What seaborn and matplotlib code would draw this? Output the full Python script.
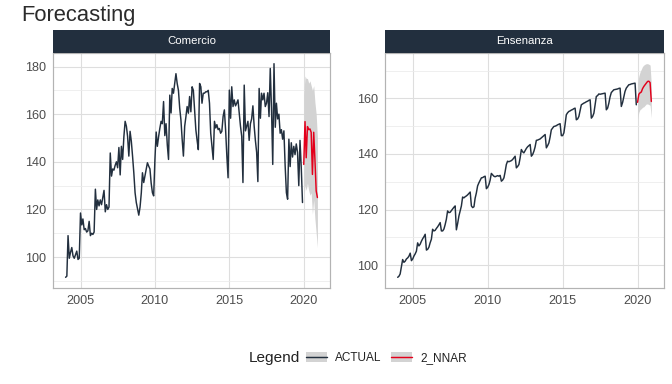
import pandas as pd
import seaborn as sns
import matplotlib.pyplot as plt
from matplotlib.patches import Patch
from matplotlib.lines import Line2D
from matplotlib.legend_handler import HandlerTuple

# monthly values, Jan 2004 - Dec 2019
comercio_actual = [
    91.5, 92.0, 109.0, 99.5, 102.0, 104.0, 100.5, 99.5, 101.0, 102.5, 99.0, 99.5,
    118.5, 113.5, 116.0, 111.5, 112.0, 110.5, 111.0, 115.0, 109.0, 110.0, 109.5, 110.5,
    128.5, 120.0, 124.0, 121.5, 124.0, 122.0, 125.0, 128.0, 119.0, 122.0, 120.0, 121.0,
    143.7, 134.0, 137.0, 136.5, 138.5, 140.0, 137.5, 146.0, 134.5, 146.5, 141.0, 150.5,
    157.0, 154.9, 150.7, 142.4, 152.8, 148.6, 142.4, 135.4, 127.0, 122.9, 120.1, 117.6,
    121.0, 127.0, 135.4, 131.3, 134.0, 136.8, 139.6, 138.2, 137.0, 131.0, 127.0, 125.7,
    141.0, 152.5, 146.5, 150.5, 154.0, 157.0, 156.0, 165.3, 151.0, 156.0, 147.0, 141.0,
    168.0, 160.5, 170.8, 168.8, 172.9, 177.0, 172.9, 170.0, 162.5, 157.6, 149.3, 142.4,
    154.9, 159.0, 163.2, 160.4, 167.4, 161.0, 171.5, 170.0, 161.8, 153.5, 149.0, 145.1,
    172.9, 171.5, 164.6, 168.8, 168.8, 169.4, 169.4, 170.0, 164.6, 152.0, 146.5, 141.0,
    157.0, 154.2, 155.6, 153.5, 154.0, 152.0, 152.8, 159.0, 161.8, 153.5, 142.4, 133.3,
    170.1, 158.3, 171.5, 163.2, 166.0, 163.5, 164.6, 166.0, 160.4, 155.0, 150.7, 131.3,
    172.2, 153.0, 155.0, 157.0, 149.0, 156.0, 158.0, 163.5, 155.0, 149.0, 144.0, 131.7,
    170.8, 158.3, 168.8, 166.0, 168.8, 163.2, 164.6, 169.0, 159.0, 179.2, 162.0, 138.9,
    181.2, 154.5, 164.6, 158.0, 160.0, 152.0, 153.5, 149.5, 153.0, 138.5, 127.0, 124.3,
    149.5, 138.0, 148.0, 142.0, 146.5, 143.0, 147.5, 144.0, 130.0, 149.0, 137.5, 122.9,
]
ensenanza_actual = [
    95.6, 96.0, 96.8, 99.5, 102.0, 101.0, 101.4, 102.2, 102.6, 103.2, 104.3, 101.6,
    102.2, 103.3, 104.0, 105.0, 108.0, 106.9, 107.5, 108.6, 109.5, 110.2, 111.1, 105.4,
    105.7, 106.5, 108.0, 109.3, 112.9, 112.3, 112.5, 113.2, 113.8, 114.5, 115.3, 112.3,
    112.3, 113.0, 114.5, 116.5, 119.5, 118.9, 119.0, 119.6, 120.2, 120.8, 121.3, 112.7,
    115.0, 117.7, 119.5, 121.3, 124.5, 124.2, 124.6, 124.9, 125.3, 125.8, 126.3, 121.3,
    120.7, 121.0, 124.0, 126.0, 128.5, 129.6, 130.5, 131.4, 131.5, 131.8, 132.0, 127.5,
    128.0, 129.0, 130.5, 133.0, 132.5, 132.0, 131.8, 132.0, 132.2, 132.0, 132.3, 130.2,
    130.6, 131.4, 133.5, 136.2, 137.4, 137.2, 137.4, 137.6, 138.0, 138.6, 139.2, 135.0,
    135.5, 136.2, 138.5, 141.6, 140.8, 140.4, 141.2, 142.0, 142.6, 143.0, 143.4, 139.2,
    139.8, 141.0, 142.5, 144.9, 145.0, 145.2, 145.4, 145.8, 146.2, 146.6, 147.0, 142.2,
    143.0, 144.0, 146.0, 148.7, 149.3, 149.9, 150.0, 150.2, 150.5, 150.7, 150.9, 146.6,
    146.6, 147.6, 150.5, 154.1, 154.8, 155.3, 155.5, 155.8, 156.0, 156.3, 156.5, 152.3,
    152.6, 153.5, 155.5, 157.7, 158.0, 158.3, 158.5, 158.8, 159.0, 159.3, 159.5, 152.9,
    153.5, 154.7, 157.5, 160.7, 161.0, 161.6, 161.5, 161.6, 161.7, 161.8, 161.9, 155.9,
    156.5, 158.3, 160.5, 162.1, 162.6, 163.1, 163.2, 163.3, 163.4, 163.6, 163.7, 157.1,
    158.5, 160.7, 162.5, 163.7, 164.3, 164.9, 165.0, 165.2, 165.3, 165.4, 165.5, 157.7,
]

# 2_NNAR forecast, Jan - Dec 2020
comercio_fc = [138.9, 156.9, 141.7, 154.8, 153.5, 153.8, 152.4, 134.7, 152.4, 141.0, 127.8, 125.0]
comercio_hi = [168.0, 176.0, 175.0, 175.0, 173.0, 174.0, 172.0, 170.0, 172.0, 165.0, 160.0, 150.0]
comercio_lo = [124.0, 130.0, 128.0, 131.0, 128.0, 126.0, 127.0, 118.0, 124.0, 116.0, 110.0, 104.0]
ensenanza_fc = [158.6, 161.5, 162.0, 162.3, 163.5, 164.3, 164.9, 165.5, 166.1, 166.2, 165.7, 158.9]
ensenanza_hi = [165.5, 168.0, 169.5, 170.5, 171.5, 172.0, 172.3, 172.5, 172.5, 172.3, 172.0, 165.0]
ensenanza_lo = [152.5, 155.0, 156.0, 156.3, 156.8, 157.0, 157.5, 158.0, 158.0, 157.8, 157.5, 153.0]

panels = ["Comercio", "Ensenanza"]
series_names = ["ACTUAL", "2_NNAR"]
x_tick_years = [2005, 2010, 2015, 2020]
y_ticks = {"Comercio": [100, 120, 140, 160, 180], "Ensenanza": [100, 120, 140, 160]}
y_minor = {"Comercio": [90, 110, 130, 150, 170], "Ensenanza": [110, 130, 150, 170]}

actual_dates = pd.date_range("2004-01-01", periods=len(comercio_actual), freq="MS")
fc_dates = pd.date_range("2020-01-01", periods=len(comercio_fc), freq="MS")

rows = []
for panel, act, fc in [("Comercio", comercio_actual, comercio_fc),
                       ("Ensenanza", ensenanza_actual, ensenanza_fc)]:
    rows.append(pd.DataFrame({"date": actual_dates, "value": act, "series": "ACTUAL", "panel": panel}))
    rows.append(pd.DataFrame({"date": fc_dates, "value": fc, "series": "2_NNAR", "panel": panel}))
df = pd.concat(rows, ignore_index=True)

bands = {
    "Comercio": pd.DataFrame({"date": fc_dates, "lo": comercio_lo, "hi": comercio_hi}),
    "Ensenanza": pd.DataFrame({"date": fc_dates, "lo": ensenanza_lo, "hi": ensenanza_hi}),
}

navy = "#222f3e"
red = "#e3001b"
palette = {"ACTUAL": navy, "2_NNAR": red}

sns.set_theme(style="white")
plt.rcParams["font.family"] = ["Liberation Sans", "DejaVu Sans"]

fig = plt.figure(figsize=(7, 4), dpi=96)
W, H = 672, 384

panel_px = {"Comercio": (53, 330), "Ensenanza": (385, 664)}
top_px, bottom_px, strip_top = 53, 288, 30

for panel in panels:
    x0, x1 = panel_px[panel]
    ax = fig.add_axes([x0 / W, 1 - bottom_px / H, (x1 - x0) / W, (bottom_px - top_px) / H])
    band = bands[panel]
    ax.fill_between(band["date"], band["lo"], band["hi"], color="#d3d3d3", lw=0, zorder=1)
    sns.lineplot(data=df[df["panel"] == panel], x="date", y="value", hue="series",
                 palette=palette, hue_order=series_names, legend=False, lw=1.1,
                 ax=ax, zorder=3)
    ax.margins(x=0.05, y=0.05)
    ax.set_xticks([pd.Timestamp(f"{y}-01-01") for y in x_tick_years])
    ax.set_xticklabels([str(y) for y in x_tick_years])
    ax.set_yticks(y_ticks[panel])
    ax.set_yticks(y_minor[panel], minor=True)
    ax.grid(which="major", color="#dedede", lw=0.8, zorder=0)
    ax.grid(which="minor", axis="y", color="#ebebeb", lw=0.6, zorder=0)
    ax.set_axisbelow(True)
    ax.set_xlabel("")
    ax.set_ylabel("")
    for s in ax.spines.values():
        s.set_color("#b3b3b3")
        s.set_linewidth(0.9)
    ax.tick_params(axis="both", which="major", labelsize=9.5, colors="#b3b3b3",
                   labelcolor="#4d4d4d", length=3, width=0.8, pad=2)
    ax.tick_params(axis="both", which="minor", length=0)

    sax = fig.add_axes([x0 / W, 1 - top_px / H, (x1 - x0) / W, (top_px - strip_top) / H])
    sax.set_facecolor(navy)
    sax.set_xticks([])
    sax.set_yticks([])
    for s in sax.spines.values():
        s.set_visible(False)
    sax.text(0.5, 0.5, panel, color="white", fontsize=8.5, ha="center", va="center",
             transform=sax.transAxes)

fig.text(21 / W, 1 - 16 / H, "Forecasting", fontsize=16.5, color="#2b2b2b", va="center", ha="left")

fig.text(249 / W, 1 - 358 / H, "Legend", fontsize=11.5, color="#222222", va="center", ha="left")
handles = [(Patch(facecolor="#d3d3d3", edgecolor="none"), Line2D([], [], color=palette[n], lw=1.1))
           for n in series_names]
fig.legend(handles, series_names, handler_map={tuple: HandlerTuple(ndivide=1, pad=0)},
           loc="center left", bbox_to_anchor=(306 / W, 1 - 358 / H), ncol=2, frameon=False,
           fontsize=8.8, handlelength=1.8, handleheight=1.0, handletextpad=0.7,
           columnspacing=0.8, borderpad=0, borderaxespad=0, labelcolor="#222222")

fig.savefig("out.png", dpi=96)
